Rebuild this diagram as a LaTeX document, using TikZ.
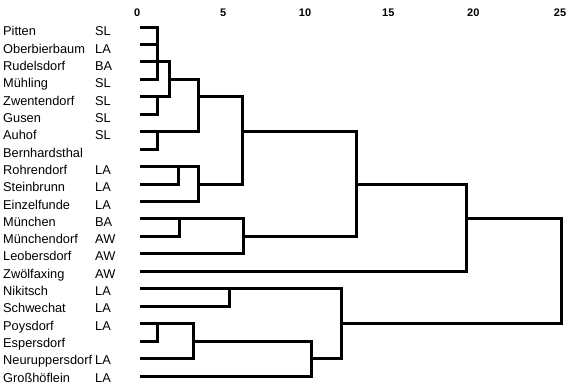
\documentclass[tikz,border=0pt]{standalone}
\usepackage{fontspec}
\setmainfont{Liberation Sans}
\begin{document}
\begin{tikzpicture}[x=1pt,y=-1pt,
  dl/.style={line width=3pt,line cap=rect,line join=miter},
  lab/.style={anchor=base west,inner sep=0pt,font=\fontsize{12.8}{14}\selectfont},
  ax/.style={anchor=base,inner sep=0pt,font=\fontsize{11}{13}\selectfont\bfseries}]
\useasboundingbox (0,0) rectangle (567,384);
% axis
\node[ax] (t0) at (137.2,16.7) {0};
\node[ax] (t5) at (223.3,16.7) {5};
\node[ax] (t10) at (305,16.7) {10};
\node[ax] (t15) at (388.3,16.7) {15};
\node[ax] (t20) at (473.3,16.7) {20};
\node[ax] (t25) at (560,16.7) {25};
% labels
\foreach \i/\n/\g in {0/Pitten/SL,1/Oberbierbaum/LA,2/Rudelsdorf/BA,3/Mühling/SL,
  4/Zwentendorf/SL,5/Gusen/SL,6/Auhof/SL,7/Bernhardsthal/,8/Rohrendorf/LA,
  9/Steinbrunn/LA,10/Einzelfunde/LA,11/München/BA,12/Münchendorf/AW,
  13/Leobersdorf/AW,14/Zwölfaxing/AW,15/Nikitsch/LA,16/Schwechat/LA,
  17/Poysdorf/LA,18/Espersdorf/,19/Neuruppersdorf/LA,20/Großhöflein/LA}{
  \pgfmathsetmacro\b{35.7+17.33*\i}
  \pgfmathsetmacro\y{27+17.45*\i}
  \node[lab] (n\i) at (3,\b) {\n};
  \node[lab] (g\i) at (95,\b) {\g};
  \coordinate (r\i) at (141,\y);
}
% merge points (x, output row)
\coordinate (a1) at (157.5,61.9);
\coordinate (a2) at (157,96.8);
\coordinate (a3) at (169.3,79.35);
\coordinate (a4) at (157,131.7);
\coordinate (a5) at (198.3,96.8);
\coordinate (b1) at (178.5,166.6);
\coordinate (b2) at (198.8,184.05);
\coordinate (a6) at (242.7,131.7);
\coordinate (c1) at (179.3,218.95);
\coordinate (c2) at (243.3,236.4);
\coordinate (a7) at (356,184.05);
\coordinate (a8) at (466,218.95);
\coordinate (d1) at (229.3,288.75);
\coordinate (e1) at (157.3,323.65);
\coordinate (e2) at (193.3,341.1);
\coordinate (e3) at (311.7,358.55);
\coordinate (d2) at (341.7,323.65);
\coordinate (root) at (561.7,271.3);
\newcommand\joinx[3]{\draw[dl] (#2) -- (#2 -| #1) -- (#3 -| #1) -- (#3);}
\joinx{a1}{r0}{r3}
\draw[dl] (r1) -- (r1 -| a1) (r2) -- (a1);
\joinx{a2}{r4}{r5}
\joinx{a3}{a1}{a2}
\joinx{a4}{r6}{r7}
\joinx{a5}{a3}{a4}
\joinx{b1}{r8}{r9}
\joinx{b2}{b1}{r10}
\joinx{a6}{a5}{b2}
\joinx{c1}{r11}{r12}
\joinx{c2}{c1}{r13}
\joinx{a7}{a6}{c2}
\joinx{a8}{a7}{r14}
\joinx{d1}{r15}{r16}
\joinx{e1}{r17}{r18}
\joinx{e2}{e1}{r19}
\joinx{e3}{e2}{r20}
\joinx{d2}{d1}{e3}
\joinx{root}{a8}{d2}
\end{tikzpicture}
\end{document}
